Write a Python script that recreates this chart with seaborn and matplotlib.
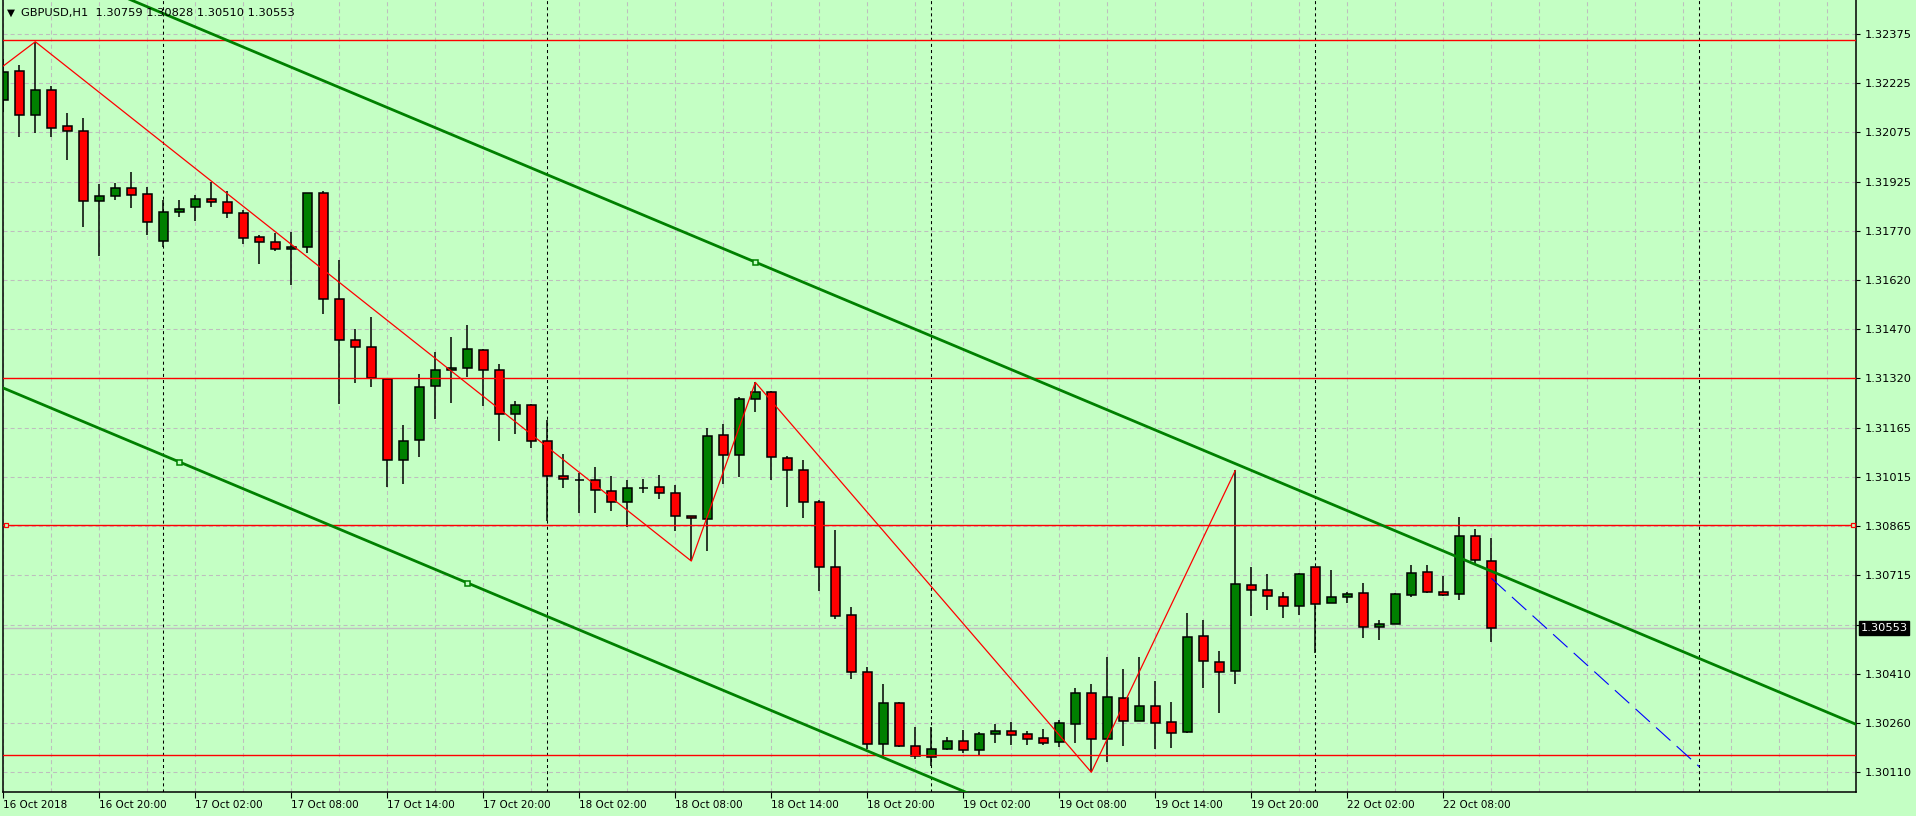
import numpy as np
import pandas as pd
import matplotlib
matplotlib.use("Agg")
import matplotlib.pyplot as plt
import matplotlib.transforms as mtransforms
import seaborn as sns

# ---------------- data ----------------
symbol_header = "GBPUSD,H1"
last_ohlc = ["1.30759", "1.30828", "1.30510", "1.30553"]

opens = [1.32172, 1.32261, 1.32126, 1.32202, 1.32092, 1.32077, 1.31862, 1.31877, 1.31902, 1.31883,
         1.31739, 1.31828, 1.31843, 1.31868, 1.31859, 1.31825, 1.31751, 1.31736, 1.31715, 1.31721,
         1.31886, 1.31561, 1.31435, 1.31414, 1.31316, 1.31069, 1.31129, 1.31294, 1.31343, 1.31349,
         1.31405, 1.31343, 1.31208, 1.31238, 1.31125, 1.31018, 1.31008, 1.31006, 1.30972, 1.30938,
         1.30983, 1.30984, 1.30966, 1.30895, 1.30886, 1.31144, 1.31083, 1.31254, 1.31276, 1.31073,
         1.31036, 1.30938, 1.30739, 1.30592, 1.30417, 1.30196, 1.30322, 1.30190, 1.30156, 1.30181,
         1.30205, 1.30178, 1.30227, 1.30236, 1.30227, 1.30214, 1.30202, 1.30257, 1.30352, 1.30211,
         1.30337, 1.30266, 1.30312, 1.30263, 1.30233, 1.30527, 1.30447, 1.30420, 1.30684, 1.30668,
         1.30647, 1.30619, 1.30739, 1.30628, 1.30647, 1.30659, 1.30555, 1.30564, 1.30653, 1.30724,
         1.30662, 1.30656, 1.30834, 1.30759]
highs = [1.32298, 1.32280, 1.32351, 1.32215, 1.32133, 1.32117, 1.31915, 1.31917, 1.31951, 1.31906,
         1.31865, 1.31865, 1.31880, 1.31920, 1.31892, 1.31834, 1.31757, 1.31764, 1.31767, 1.31888,
         1.31892, 1.31681, 1.31469, 1.31507, 1.31318, 1.31175, 1.31332, 1.31399, 1.31445, 1.31482,
         1.31408, 1.31362, 1.31248, 1.31240, 1.31190, 1.31086, 1.31027, 1.31047, 1.31018, 1.31006,
         1.31009, 1.31021, 1.30991, 1.30896, 1.31167, 1.31179, 1.31260, 1.31306, 1.31281, 1.31080,
         1.31067, 1.30944, 1.30853, 1.30617, 1.30432, 1.30380, 1.30326, 1.30249, 1.30249, 1.30217,
         1.30239, 1.30233, 1.30258, 1.30263, 1.30236, 1.30242, 1.30269, 1.30369, 1.30380, 1.30463,
         1.30426, 1.30463, 1.30389, 1.30325, 1.30598, 1.30576, 1.30482, 1.31036, 1.30740, 1.30717,
         1.30662, 1.30720, 1.30740, 1.30730, 1.30662, 1.30690, 1.30576, 1.30659, 1.30745, 1.30745,
         1.30711, 1.30892, 1.30856, 1.30828]
lows = [1.32135, 1.32060, 1.32070, 1.32060, 1.31989, 1.31784, 1.31695, 1.31864, 1.31842, 1.31759,
        1.31722, 1.31814, 1.31802, 1.31845, 1.31811, 1.31732, 1.31670, 1.31710, 1.31606, 1.31702,
        1.31515, 1.31240, 1.31303, 1.31293, 1.30986, 1.30995, 1.31078, 1.31195, 1.31244, 1.31322,
        1.31234, 1.31127, 1.31149, 1.31106, 1.30882, 1.30981, 1.30905, 1.30906, 1.30913, 1.30863,
        1.30966, 1.30948, 1.30849, 1.30758, 1.30790, 1.30995, 1.31017, 1.31214, 1.31008, 1.30925,
        1.30891, 1.30667, 1.30579, 1.30395, 1.30182, 1.30153, 1.30187, 1.30150, 1.30128, 1.30178,
        1.30168, 1.30162, 1.30199, 1.30193, 1.30193, 1.30193, 1.30187, 1.30199, 1.30110, 1.30141,
        1.30190, 1.30266, 1.30181, 1.30184, 1.30230, 1.30368, 1.30293, 1.30380, 1.30590, 1.30609,
        1.30584, 1.30593, 1.30475, 1.30628, 1.30630, 1.30523, 1.30517, 1.30564, 1.30647, 1.30659,
        1.30652, 1.30638, 1.30745, 1.30510]
closes = [1.32258, 1.32126, 1.32202, 1.32086, 1.32077, 1.31862, 1.31877, 1.31902, 1.31880, 1.31797,
          1.31828, 1.31837, 1.31868, 1.31859, 1.31825, 1.31748, 1.31736, 1.31715, 1.31721, 1.31886,
          1.31561, 1.31435, 1.31414, 1.31319, 1.31067, 1.31125, 1.31291, 1.31343, 1.31349, 1.31408,
          1.31343, 1.31208, 1.31238, 1.31125, 1.31018, 1.31009, 1.31008, 1.30975, 1.30938, 1.30981,
          1.30983, 1.30966, 1.30895, 1.30889, 1.31141, 1.31083, 1.31254, 1.31276, 1.31076, 1.31036,
          1.30938, 1.30739, 1.30589, 1.30417, 1.30196, 1.30322, 1.30190, 1.30159, 1.30181, 1.30205,
          1.30178, 1.30227, 1.30236, 1.30223, 1.30211, 1.30199, 1.30260, 1.30352, 1.30211, 1.30340,
          1.30266, 1.30312, 1.30260, 1.30230, 1.30524, 1.30451, 1.30417, 1.30687, 1.30668, 1.30650,
          1.30619, 1.30717, 1.30625, 1.30647, 1.30656, 1.30555, 1.30564, 1.30656, 1.30720, 1.30662,
          1.30653, 1.30834, 1.30760, 1.30553]

time_labels = ["16 Oct 2018", "16 Oct 20:00", "17 Oct 02:00", "17 Oct 08:00", "17 Oct 14:00",
               "17 Oct 20:00", "18 Oct 02:00", "18 Oct 08:00", "18 Oct 14:00", "18 Oct 20:00",
               "19 Oct 02:00", "19 Oct 08:00", "19 Oct 14:00", "19 Oct 20:00", "22 Oct 02:00",
               "22 Oct 08:00"]
time_label_bars = [0, 6, 12, 18, 24, 30, 36, 42, 48, 54, 60, 66, 72, 78, 84, 90]
day_separator_bars = [10, 34, 58, 82, 106]

price_tick_labels = ["1.32375", "1.32225", "1.32075", "1.31925", "1.31770", "1.31620", "1.31470",
                     "1.31320", "1.31165", "1.31015", "1.30865", "1.30715", "", "1.30410",
                     "1.30260", "1.30110"]
price_tick_top = 1.32375
price_tick_step = 0.00151

horizontal_levels = [1.32356, 1.31320, 1.30162]
handle_level = 1.30870
current_price = 1.30553

zigzag_bars = [-3, 2, 43, 47, 68, 77]
zigzag_prices = [1.32165, 1.32351, 1.30758, 1.31306, 1.30110, 1.31036]

channel_lower_bars = [11, 29]
channel_lower_prices = [1.31062, 1.30691]
channel_upper_bar = [47]
channel_upper_price = [1.31675]

projection_bars = [93, 106]
projection_prices = [1.30705, 1.30127]

# ---------------- style ----------------
BG = "#C4FFC4"
GRID = "#BEBEBE"
BULL = "#008000"
BEAR = "#FF0000"

sns.set_theme(style="white", rc={"axes.facecolor": BG, "figure.facecolor": BG})
plt.rcParams["font.family"] = ["DejaVu Sans"]
plt.rcParams["lines.scale_dashes"] = False

W, H = 1916, 816
fig = plt.figure(figsize=(W / 100, H / 100), dpi=100)
ax_left, ax_right, ax_bottom_px, ax_top_px = 2.5, 1856, 792, 0
ax = fig.add_axes([ax_left / W, (H - ax_bottom_px) / H,
                   (ax_right - ax_left) / W, (ax_bottom_px - ax_top_px) / H])
ax.set_facecolor(BG)

n = len(opens)
x = np.arange(n)
o = np.array(opens); c = np.array(closes); hi = np.array(highs); lo = np.array(lows)

x_min, x_max = -0.05, 115.79
y_min, y_max = 1.300495, 1.32479
ax.set_xlim(x_min, x_max)
ax.set_ylim(y_min, y_max)

# grid
tick_pos = [price_tick_top - k * price_tick_step for k in range(len(price_tick_labels))]
for yv in tick_pos:
    ax.axhline(yv, color=GRID, lw=0.75, dashes=(2.9, 2.2), zorder=0.5)
for xv in np.arange(0, 117, 3):
    ax.axvline(xv, color=GRID, lw=0.75, dashes=(2.9, 2.2), zorder=0.5)
for xv in day_separator_bars:
    ax.axvline(xv, color="black", lw=0.75, dashes=(2.2, 2.2), zorder=0.6)

# current price line
ax.axhline(current_price, color="#C0C0C0", lw=1.0, zorder=0.7)

# candles
ax.vlines(x, lo, hi, color="black", lw=1.1, zorder=2)
bull = c >= o
colors = np.where(bull, BULL, BEAR)
ax.bar(x, np.abs(c - o), bottom=np.minimum(o, c), width=0.6, color=colors,
       edgecolor="black", linewidth=1.1, zorder=2.1)

# horizontal levels
for lv in horizontal_levels:
    ax.axhline(lv, color="red", lw=1.0, zorder=3)
ax.axhline(handle_level, color="red", lw=1.0, zorder=3)
ax.plot([0.15, 115.6], [handle_level, handle_level], ls="none", marker="s", ms=3.2,
        mfc=BG, mec="red", mew=0.9, zorder=4)

# zigzag
zz = pd.DataFrame({"bar": zigzag_bars, "price": zigzag_prices})
sns.lineplot(data=zz, x="bar", y="price", ax=ax, color="red", lw=0.9, zorder=3.2, sort=False)

# channel
slope = (channel_lower_prices[1] - channel_lower_prices[0]) / (channel_lower_bars[1] - channel_lower_bars[0])
xs = np.array([-12.0, 125.0])
lower = pd.DataFrame({"bar": xs, "price": channel_lower_prices[0] + slope * (xs - channel_lower_bars[0])})
upper = pd.DataFrame({"bar": xs, "price": channel_upper_price[0] + slope * (xs - channel_upper_bar[0])})
sns.lineplot(data=lower, x="bar", y="price", ax=ax, color="#008000", lw=2.0, zorder=3.5)
sns.lineplot(data=upper, x="bar", y="price", ax=ax, color="#008000", lw=2.0, zorder=3.5)
ax.plot(channel_lower_bars + channel_upper_bar, channel_lower_prices + channel_upper_price,
        ls="none", marker="s", ms=3.6, mfc=BG, mec="#008000", mew=1.1, zorder=4)

# projection
proj = pd.DataFrame({"bar": projection_bars, "price": projection_prices})
sns.lineplot(data=proj, x="bar", y="price", ax=ax, color="#0000FF", lw=0.8, zorder=3.3)
ax.lines[-1].set_dashes((14, 6))

# axes / ticks
for s in ["left", "bottom", "right"]:
    ax.spines[s].set_visible(True)
    ax.spines[s].set_color("black")
    ax.spines[s].set_linewidth(1.1)
ax.spines["top"].set_visible(False)
ax.set_xlabel(""); ax.set_ylabel("")
ax.yaxis.tick_right()
ax.set_yticks(tick_pos)
ax.set_yticklabels(price_tick_labels)
ax.tick_params(axis="y", which="both", right=True, left=False, direction="out", length=3,
               width=0.8, color="black", pad=3, labelsize=8.2, labelcolor="black")
ax.set_xticks(time_label_bars)
ax.set_xticklabels(time_labels)
ax.tick_params(axis="x", which="both", bottom=True, direction="out", length=4, width=0.8,
               color="black", pad=1.5, labelsize=7.5, labelcolor="black")
for lab in ax.get_xticklabels():
    lab.set_horizontalalignment("left")

# current price box
trans = mtransforms.blended_transform_factory(ax.transAxes, ax.transData)
ax.text(1 + 4.5 / (ax_right - ax_left), current_price, "1.30553", transform=trans,
        ha="left", va="center", fontsize=8.2, color="white", zorder=10, clip_on=False,
        bbox=dict(boxstyle="square,pad=0.16", fc="black", ec="black"))

# header
fig.text(6.5 / W, 1 - 13 / H, "\u25bc", fontsize=7.5, color="black", va="center", ha="left")
fig.text(21 / W, 1 - 13 / H, symbol_header + "  " + " ".join(last_ohlc), fontsize=8.2,
         color="black", va="center", ha="left")

fig.savefig("out.png", dpi=100, facecolor=BG)
